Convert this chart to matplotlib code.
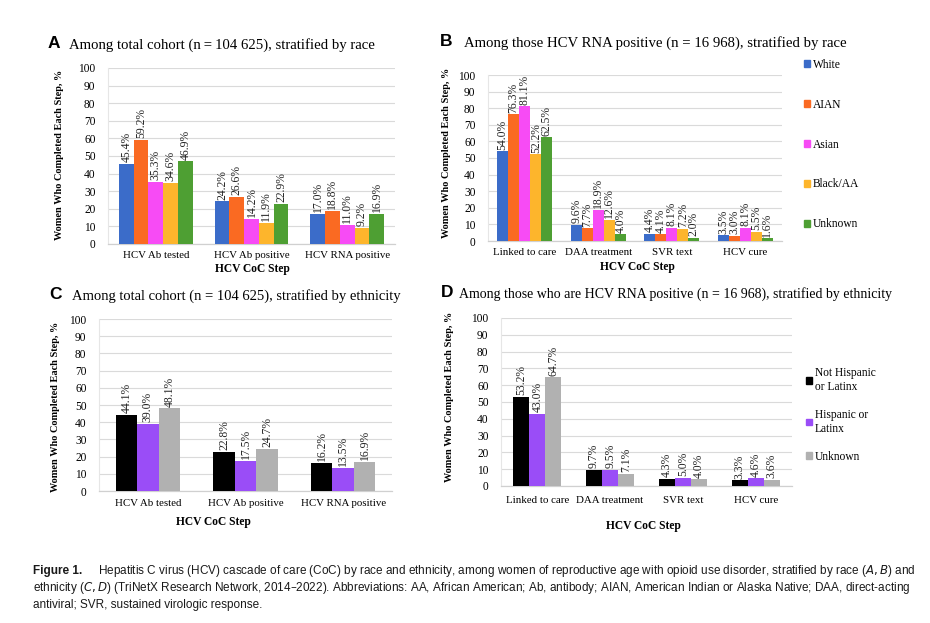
import matplotlib
matplotlib.use("Agg")
import matplotlib.pyplot as plt
import numpy as np
from matplotlib.patches import Patch

W, H = 930, 623

# --- data -------------------------------------------------------------
steps_total = ["HCV Ab tested", "HCV Ab positive", "HCV RNA positive"]
steps_rna = ["Linked to care", "DAA treatment", "SVR text", "HCV cure"]

races = ["White", "AIAN", "Asian", "Black/AA", "Unknown"]
race_colors = ["#3B6CC9", "#FA6A22", "#F74BF5", "#FDB52C", "#4E9F33"]

ethn = ["Not Hispanic\nor Latinx", "Hispanic or\nLatinx", "Unknown"]
ethn_colors = ["#000000", "#9A4DF7", "#B1B1B1"]

# panel A: one list per race, values per step
a_white = [45.4, 24.2, 17.0]
a_aian = [59.2, 26.6, 18.8]
a_asian = [35.3, 14.2, 11.0]
a_black = [34.6, 11.9, 9.2]
a_unknown = [46.9, 22.9, 16.9]

# panel B
b_white = [54.0, 9.6, 4.4, 3.5]
b_aian = [76.3, 7.7, 4.1, 3.0]
b_asian = [81.1, 18.9, 8.1, 8.1]
b_black = [52.2, 12.6, 7.2, 5.5]
b_unknown = [62.5, 4.0, 2.0, 1.6]

# panel C
c_nonhisp = [44.1, 22.8, 16.2]
c_hisp = [39.0, 17.5, 13.5]
c_unknown = [48.1, 24.7, 16.9]

# panel D
d_nonhisp = [53.2, 9.7, 4.3, 3.3]
d_hisp = [43.0, 9.5, 5.0, 4.6]
d_unknown = [64.7, 7.1, 4.0, 3.6]

plt.rcParams["font.family"] = ["Liberation Serif", "DejaVu Serif"]

fig = plt.figure(figsize=(W / 100, H / 100), dpi=100)


def px_axes(x0, y0, x1, y1):
    # pixel box (top-left origin) -> figure axes
    return fig.add_axes([x0 / W, 1 - y1 / H, (x1 - x0) / W, (y1 - y0) / H])


def ftext(x, y, s, **kw):
    fig.text(x / W, 1 - y / H, s, **kw)


def bar_panel(ax, steps, series, colors, group_w, tick_pad):
    n = len(series)
    x = np.arange(len(steps))
    w = group_w / n
    for i, (vals, col) in enumerate(zip(series, colors)):
        pos = x - group_w / 2 + w * (i + 0.5)
        ax.bar(pos, vals, width=w, color=col, zorder=3)
        for xi, v in zip(pos, vals):
            ax.text(xi, v + 1.0, f"{v:.1f}%", rotation=90, ha="center",
                    va="bottom", fontsize=8.4, color="#222222", zorder=4)
    ax.set_xlim(-0.5, len(steps) - 0.5)
    ax.set_ylim(0, 100)
    ax.set_yticks(range(0, 101, 10))
    ax.set_xticks(x)
    ax.set_xticklabels(steps, fontsize=7.8)
    ax.tick_params(axis="y", length=0, pad=9, labelsize=8.3)
    ax.tick_params(axis="x", length=0, pad=tick_pad)
    ax.grid(axis="y", color="#DADADA", linewidth=0.8, zorder=0)
    for s in ["top", "right"]:
        ax.spines[s].set_visible(False)
    ax.spines["left"].set_color("#E6E6E6")
    ax.spines["left"].set_linewidth(0.8)
    ax.spines["bottom"].set_color("#D0D0D0")
    ax.spines["bottom"].set_linewidth(0.9)


ylab = "Women Who Completed Each Step, %"
title_kw = dict(fontsize=10.6, va="center", ha="left")
letter_kw = dict(fontsize=12.5, fontweight="bold", va="center", ha="left",
                 family=["Liberation Sans", "DejaVu Sans"])
ylab_kw = dict(fontsize=7.4, fontweight="bold", rotation=90, ha="center", va="center")
xlab_kw = dict(fontsize=8.3, fontweight="bold", ha="center", va="center")

# A
axA = px_axes(108, 68, 395, 244)
bar_panel(axA, steps_total, [a_white, a_aian, a_asian, a_black, a_unknown],
          race_colors, 0.77, 5)
ftext(48, 44, "A", **letter_kw)
ftext(69, 45, "Among total cohort (n\u2009=\u2009104 625), stratified by race", **title_kw)
ftext(59, 155, ylab, **ylab_kw)
ftext(252, 269, "HCV CoC Step", **xlab_kw)

# B
axB = px_axes(488, 75, 782, 241)
bar_panel(axB, steps_rna, [b_white, b_aian, b_asian, b_black, b_unknown],
          race_colors, 0.75, 5)
ftext(440, 42, "B", **letter_kw)
ftext(464, 43, "Among those HCV RNA positive (n = 16 968), stratified by race", **title_kw)
ftext(446, 153, ylab, **ylab_kw)
ftext(637, 267, "HCV CoC Step", **xlab_kw)
fig.legend(handles=[Patch(color=c, label=l) for c, l in zip(race_colors, races)],
           loc="upper left", bbox_to_anchor=(798 / W, 1 - 53 / H), frameon=False,
           fontsize=8.3, handlelength=0.55, handleheight=0.55, handletextpad=0.25,
           labelspacing=2.42, borderpad=0)

# C
axC = px_axes(99, 319, 392, 491)
bar_panel(axC, steps_total, [c_nonhisp, c_hisp, c_unknown], ethn_colors, 0.66, 6)
ftext(49, 295, "C", **letter_kw)
ftext(72, 296, "Among total cohort (n = 104 625), stratified by ethnicity",
      **dict(title_kw, fontsize=10.5))
ftext(55, 407, ylab, **ylab_kw)
ftext(213, 522, "HCV CoC Step", **xlab_kw)

# D
axD = px_axes(501, 318, 792, 486)
bar_panel(axD, steps_rna, [d_nonhisp, d_hisp, d_unknown], ethn_colors, 0.66, 7)
ftext(441, 293, "D", **letter_kw)
ftext(459, 294, "Among those who are HCV RNA positive (n = 16 968), stratified by ethnicity",
      **dict(title_kw, fontsize=10.0))
ftext(449, 397, ylab, **ylab_kw)
ftext(643, 526, "HCV CoC Step", **xlab_kw)
fig.legend(handles=[Patch(color=c, label=l) for c, l in zip(ethn_colors, ethn)],
           loc="upper left", bbox_to_anchor=(800 / W, 1 - 361 / H), frameon=False,
           fontsize=8.3, handlelength=0.55, handleheight=0.55, handletextpad=0.25,
           labelspacing=1.4, borderpad=0)

# caption
cap_font = ["Liberation Sans Narrow", "Liberation Sans", "DejaVu Sans"]
cap_kw = dict(fontsize=8.45, family=cap_font, color="#1A1A1A", va="center", ha="left")
ftext(33, 571, "Figure 1.", fontweight="bold", **cap_kw)
ftext(98, 571, "Hepatitis C virus (HCV) cascade of care (CoC) by race and ethnicity, among women "
      "of reproductive age with opioid use disorder, stratified by race ($\\it{A, B}$) and", **cap_kw)
ftext(33, 588, "ethnicity ($\\it{C, D}$) (TriNetX Research Network, 2014\u20132022). Abbreviations: "
      "AA, African American; Ab, antibody; AIAN, American Indian or Alaska Native; DAA, direct-acting",
      **cap_kw)
ftext(33, 605, "antiviral; SVR, sustained virologic response.", **cap_kw)

fig.savefig("out.png", dpi=100)
